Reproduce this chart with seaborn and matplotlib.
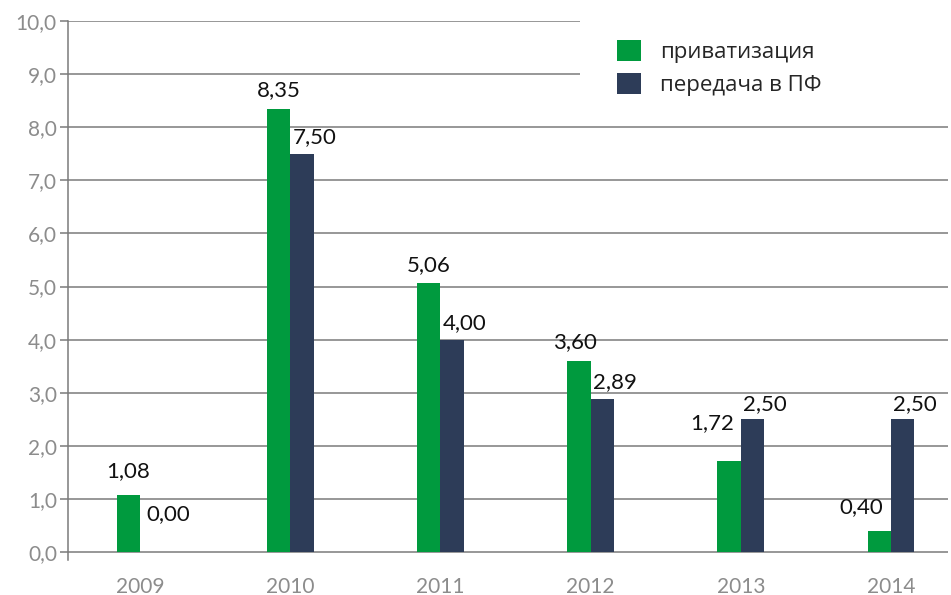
import pandas as pd
import matplotlib.pyplot as plt
import matplotlib.patches as mpatches
import seaborn as sns

# Data
years = ["2009", "2010", "2011", "2012", "2013", "2014"]
privatization = [1.08, 8.35, 5.06, 3.60, 1.72, 0.40]
transfer_pf = [0.00, 7.50, 4.00, 2.89, 2.50, 2.50]
series_names = ["приватизация", "передача в ПФ"]
y_ticks = [0, 1, 2, 3, 4, 5, 6, 7, 8, 9, 10]

df = pd.DataFrame({
    "year": years * 2,
    "value": privatization + transfer_pf,
    "series": [series_names[0]] * len(years) + [series_names[1]] * len(years),
})

sns.set_style("white")
plt.rcParams["font.family"] = ["Lato", "DejaVu Sans"]

fig = plt.figure(figsize=(9.51, 5.95), dpi=100)
ax = fig.add_axes([68 / 951, 1 - 560 / 595, 880 / 951, 539 / 595])

colors = ["#009a3e", "#2d3c58"]
sns.barplot(data=df, x="year", y="value", hue="series", palette=colors,
            width=0.31, gap=0, saturation=1, linewidth=0, edgecolor="none",
            ax=ax, legend=False, zorder=3)

ax.set_xlim(-0.48, 5.38)
ax.set_ylim(-0.15, 10)
ax.set_yticks(y_ticks)
ax.set_yticklabels([f"{t:.1f}".replace(".", ",") for t in y_ticks])
ax.yaxis.grid(True, color="#7a7a7a", linewidth=1.1, zorder=0)
ax.set_axisbelow(True)
ax.set_xlabel("")
ax.set_ylabel("")

for side in ["top", "right", "bottom"]:
    ax.spines[side].set_visible(False)
ax.spines["left"].set_color("#7a7a7a")
ax.spines["left"].set_linewidth(1.1)

ax.tick_params(axis="y", length=6, width=1.1, color="#7a7a7a", pad=2,
               labelsize=15, labelcolor="#8c8c8c", left=True)
ax.tick_params(axis="x", length=0, pad=12, labelsize=15, labelcolor="#8c8c8c")

# value labels (x offsets in points, y offsets in points)
green_dx = [0, 0, 0, -3, -12, -13]
green_dy = [10, 6, 6, 6, 20, 10]
navy_dx = [12, 9, 9, 9, 9, 9]
navy_dy = [20, 5, 5, 5, 4, 4]
bar_w = 0.155
for i, (p, t) in enumerate(zip(privatization, transfer_pf)):
    ax.annotate(f"{p:.2f}".replace(".", ","), (i - bar_w / 2, p),
                xytext=(green_dx[i], green_dy[i]), textcoords="offset points",
                ha="center", va="bottom", fontsize=16, color="#111111")
    ax.annotate(f"{t:.2f}".replace(".", ","), (i + bar_w / 2, t),
                xytext=(navy_dx[i], navy_dy[i]), textcoords="offset points",
                ha="center", va="bottom", fontsize=16, color="#111111")

# white panel behind the legend, covering the top gridlines
ax.add_patch(mpatches.Rectangle((580 / 951, 1 - 112 / 595), 1 - 580 / 951, 112 / 595,
                                transform=fig.transFigure, facecolor="white",
                                edgecolor="none", zorder=5))

handles = [mpatches.Patch(facecolor=c, edgecolor="none") for c in colors]
leg = fig.legend(handles, series_names, loc="upper left",
                 bbox_to_anchor=(597 / 951, 1 - 20 / 595), frameon=False,
                 handlelength=1.1, handleheight=1.05, handletextpad=0.85,
                 labelspacing=0.45, prop={"family": ["Open Sans", "DejaVu Sans"], "size": 16})
leg.set_zorder(6)

fig.savefig("out.png", dpi=100)
